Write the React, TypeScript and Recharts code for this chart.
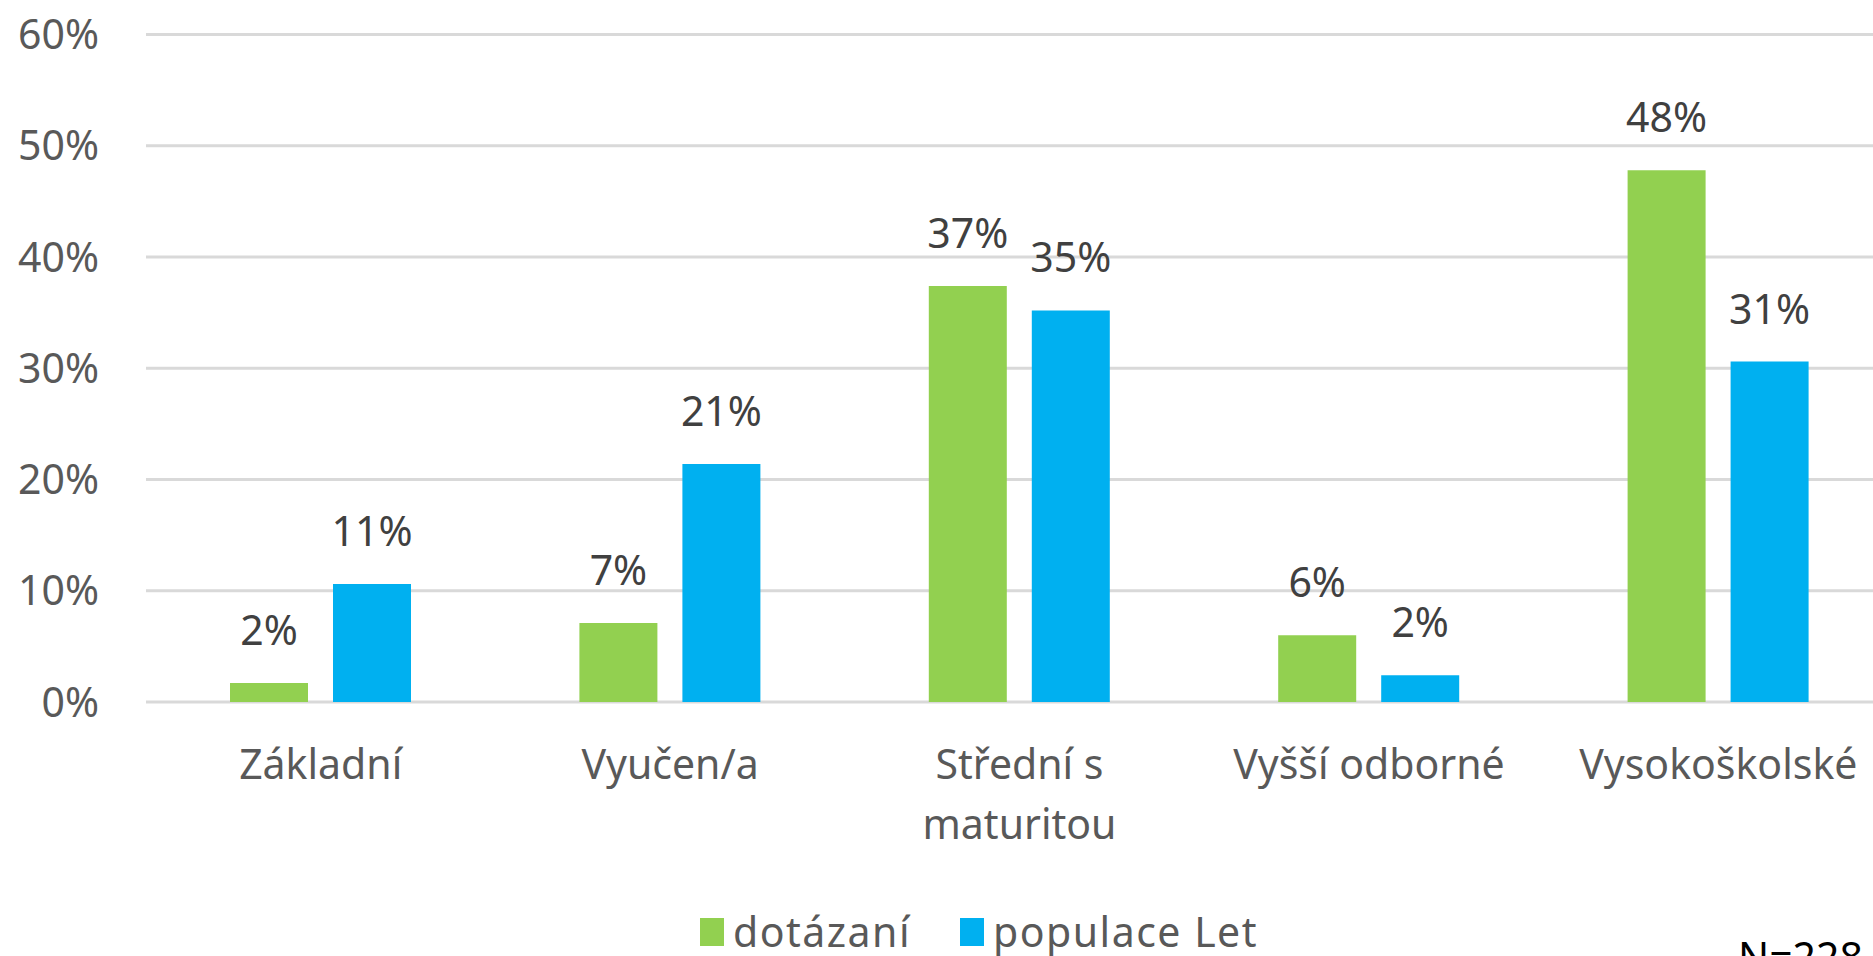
import { BarChart, Bar, XAxis, YAxis, CartesianGrid, LabelList, Legend } from 'recharts';

const categories = ['Základní', 'Vyučen/a', 'Střední s maturitou', 'Vyšší odborné', 'Vysokoškolské'];
const dotazani = [1.7, 7.1, 37.4, 6.0, 47.8];
const populace = [10.6, 21.4, 35.2, 2.4, 30.6];
const yTicks = [0, 10, 20, 30, 40, 50, 60];

const GREEN = '#92D050';
const BLUE = '#00B0F0';
const FONT = '"Noto Sans", "Open Sans", sans-serif';

const data = categories.map((name, i) => ({
  name,
  dotazani: dotazani[i],
  populace: populace[i],
}));

// simple greedy wrap by character count
const wrap = (s: string, max = 14) => {
  const lines: string[] = [];
  let cur = '';
  s.split(' ').forEach((w) => {
    const next = cur ? cur + ' ' + w : w;
    if (next.length > max && cur) {
      lines.push(cur);
      cur = w;
    } else {
      cur = next;
    }
  });
  if (cur) lines.push(cur);
  return lines;
};

const CategoryTick = ({ x, y, payload }: any) => (
  <text x={x} y={y + 77} textAnchor="middle" fill="#595959" style={{ fontSize: 41, fontFamily: FONT }}>
    {wrap(payload.value).map((line, i) => (
      <tspan key={i} x={x} dy={i === 0 ? 0 : 60}>
        {line}
      </tspan>
    ))}
  </text>
);

const LegendContent = () => (
  <div style={{ display: 'flex', alignItems: 'center', fontFamily: FONT, fontSize: 41, lineHeight: 1, color: '#595959', letterSpacing: 1.5 }}>
    <span style={{ width: 24, height: 28, background: GREEN, display: 'inline-block', marginRight: 9 }} />
    <span style={{ marginRight: 49 }}>dotázaní</span>
    <span style={{ width: 24, height: 28, background: BLUE, display: 'inline-block', marginRight: 9 }} />
    <span>populace Let</span>
  </div>
);

export default function App() {
  return (
    <div style={{ position: 'fixed', left: 0, top: 0, width: 1873, height: 956, overflow: 'hidden', background: '#fff' }}>
      <BarChart
        width={1893}
        height={956}
        data={data}
        margin={{ top: 34.5, right: 0, left: 0, bottom: 104 }}
        barSize={78}
        barGap={25}
      >
        <CartesianGrid vertical={false} stroke="#d9d9d9" strokeWidth={3} />
        <XAxis
          dataKey="name"
          axisLine={false}
          tickLine={false}
          tickSize={0}
          tickMargin={0}
          height={150}
          interval={0}
          tick={<CategoryTick />}
        />
        <YAxis
          width={146}
          domain={[0, 60]}
          ticks={yTicks}
          axisLine={false}
          tickLine={false}
          tickSize={0}
          tickMargin={47}
          tickFormatter={(v) => `${v}%`}
          tick={{ fill: '#595959', fontSize: 41, fontFamily: FONT }}
        />
        <Legend
          verticalAlign="middle"
          content={<LegendContent />}
          wrapperStyle={{ top: 911, left: 700, width: 700 }}
        />
        <Bar dataKey="dotazani" name="dotázaní" fill={GREEN} isAnimationActive={false}>
          <LabelList
            dataKey="dotazani"
            position="top"
            offset={38}
            formatter={(v: any) => `${Math.round(v)}%`}
            style={{ fill: '#404040', fontSize: 41, fontFamily: FONT }}
          />
        </Bar>
        <Bar dataKey="populace" name="populace Let" fill={BLUE} isAnimationActive={false}>
          <LabelList
            dataKey="populace"
            position="top"
            offset={38}
            formatter={(v: any) => `${Math.round(v)}%`}
            style={{ fill: '#404040', fontSize: 41, fontFamily: FONT }}
          />
        </Bar>
      </BarChart>
      <div style={{ position: 'absolute', left: 1738, top: 928, fontFamily: FONT, fontSize: 41, color: '#000' }}>
        N=228
      </div>
    </div>
  );
}
